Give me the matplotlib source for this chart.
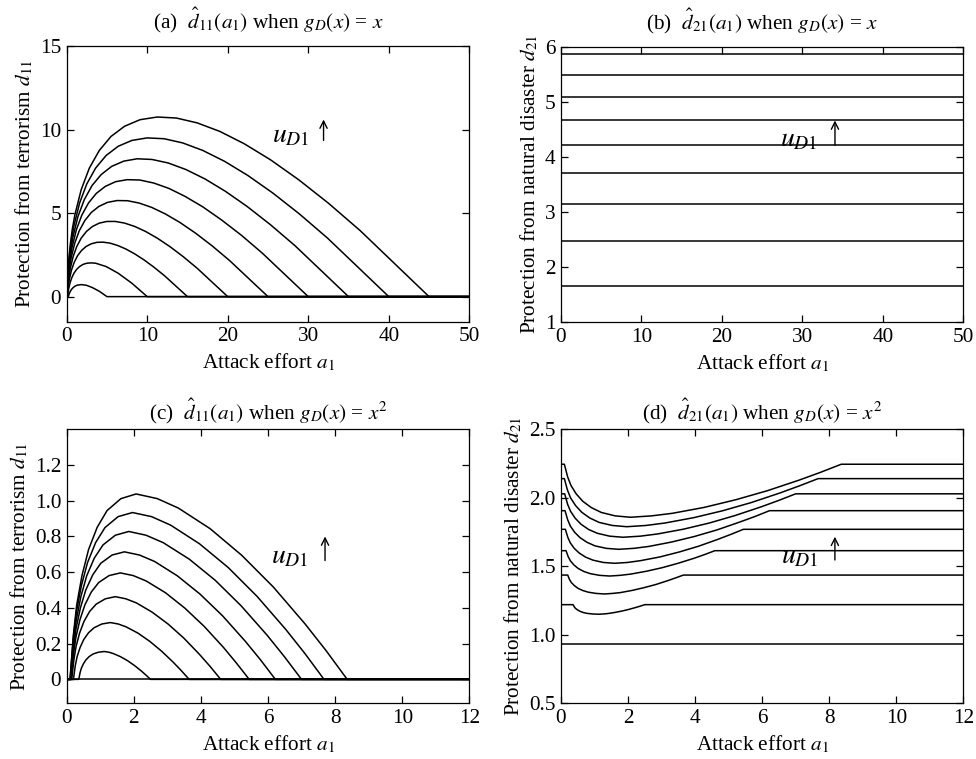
import matplotlib
matplotlib.use("Agg")
import matplotlib.pyplot as plt

plt.rcParams['font.family'] = ['Liberation Serif', 'DejaVu Serif']
plt.rcParams['mathtext.fontset'] = 'stix'

# ---------------- Panel (a): d11 vs a1, g_D(x)=x ----------------
a_panel_a = [
    [0, 0.2, 0.31, 0.45, 0.61, 0.8, 1.01, 1.25, 1.8, 2.45, 3.2, 4.05, 5, 50],
    [0, 0.1, 0.16, 0.23, 0.4, 0.63, 0.9, 1.23, 1.6, 2.03, 2.5, 3.03, 3.6, 4.9, 6.4, 8.1, 10, 50],
    [0, 0.07, 0.15, 0.23, 0.34, 0.6, 0.94, 1.35, 1.84, 2.4, 3.04, 3.75, 4.54, 5.4, 6.34, 7.35, 8.44, 9.6, 10.84, 12.15, 15, 50],
    [0, 0.05, 0.11, 0.2, 0.31, 0.45, 0.8, 1.25, 1.8, 2.45, 3.2, 4.05, 5.0, 6.05, 7.2, 8.45, 9.8, 11.25, 12.8, 14.45, 16.2, 20, 50],
    [0, 0.04, 0.06, 0.14, 0.25, 0.39, 0.56, 1.0, 1.56, 2.25, 3.06, 4.0, 5.06, 6.25, 7.56, 9.0, 10.56, 12.25, 14.06, 16.0, 18.06, 20.25, 25, 50],
    [0, 0.03, 0.08, 0.17, 0.3, 0.47, 0.68, 1.2, 1.88, 2.7, 3.68, 4.8, 6.08, 7.5, 9.08, 10.8, 12.68, 14.7, 16.88, 19.2, 21.68, 24.3, 30, 50],
    [0, 0.03, 0.09, 0.2, 0.35, 0.55, 0.79, 1.4, 2.19, 3.15, 4.29, 5.6, 7.09, 8.75, 10.59, 12.6, 14.79, 17.15, 19.69, 22.4, 25.29, 28.35, 35, 50],
    [0, 0.025, 0.1, 0.23, 0.4, 0.63, 0.9, 1.6, 2.5, 3.6, 4.9, 6.4, 8.1, 10.0, 12.1, 14.4, 16.9, 19.6, 22.5, 25.6, 28.9, 32.4, 40, 50],
    [0, 0.02, 0.11, 0.25, 0.45, 0.7, 1.01, 1.8, 2.81, 4.05, 5.51, 7.2, 9.11, 11.25, 13.61, 16.2, 19.01, 22.05, 25.31, 28.8, 32.51, 36.45, 45, 50],
]
d_panel_a = [
    [0, 0, 0.17, 0.32, 0.44, 0.54, 0.62, 0.68, 0.72, 0.68, 0.54, 0.32, 0, 0],
    [0, 0, 0.22, 0.43, 0.8, 1.13, 1.4, 1.63, 1.8, 1.93, 2.0, 2.02, 2.0, 1.8, 1.4, 0.8, 0, 0],
    [0, 0, 0.45, 0.77, 1.06, 1.6, 2.06, 2.45, 2.76, 3.0, 3.16, 3.25, 3.26, 3.2, 3.06, 2.85, 2.56, 2.2, 1.76, 1.25, 0, 0],
    [0, 0, 0.46, 0.9, 1.31, 1.7, 2.4, 3.0, 3.5, 3.9, 4.2, 4.4, 4.5, 4.5, 4.4, 4.2, 3.9, 3.5, 3.0, 2.4, 1.7, 0, 0],
    [0, 0, 0.24, 0.81, 1.35, 1.86, 2.34, 3.2, 3.94, 4.55, 5.04, 5.4, 5.64, 5.75, 5.74, 5.6, 5.34, 4.95, 4.44, 3.8, 3.04, 2.15, 0, 0],
    [0, 0, 0.48, 1.16, 1.8, 2.41, 2.98, 4.0, 4.88, 5.6, 6.18, 6.6, 6.88, 7.0, 6.98, 6.8, 6.48, 6.0, 5.38, 4.6, 3.68, 2.6, 0, 0],
    [0, 0, 0.71, 1.5, 2.25, 2.95, 3.61, 4.8, 5.81, 6.65, 7.31, 7.8, 8.11, 8.25, 8.21, 8.0, 7.61, 7.05, 6.31, 5.4, 4.31, 3.05, 0, 0],
    [0, 0, 0.95, 1.85, 2.7, 3.5, 4.25, 5.6, 6.75, 7.7, 8.45, 9.0, 9.35, 9.5, 9.45, 9.2, 8.75, 8.1, 7.25, 6.2, 4.95, 3.5, 0, 0],
    [0, 0, 1.19, 2.2, 3.15, 4.05, 4.89, 6.4, 7.69, 8.75, 9.59, 10.2, 10.59, 10.75, 10.69, 10.4, 9.89, 9.15, 8.19, 7.0, 5.59, 3.95, 0, 0],
]

# ---------------- Panel (b): d21 vs a1, g_D(x)=x (flat levels) ----------------
a_range_b = [0, 50]
levels_b = [1.66, 2.48, 3.14, 3.70, 4.21, 4.66, 5.09, 5.48, 5.87]

# ---------------- Panel (c): d11 vs a1, g_D(x)=x^2 ----------------
a_panel_c = [
    [0, 0.36, 0.398, 0.436, 0.497, 0.573, 0.672, 0.786, 0.945, 1.12, 1.258, 1.396, 1.603, 1.81, 2.017, 2.224, 2.362, 2.50, 12],
    [0, 0.2, 0.255, 0.31, 0.398, 0.508, 0.651, 0.816, 1.047, 1.30, 1.535, 1.77, 2.123, 2.475, 2.828, 3.18, 3.415, 3.65, 12],
    [0, 0.15, 0.215, 0.28, 0.384, 0.514, 0.683, 0.878, 1.151, 1.45, 1.764, 2.078, 2.549, 3.02, 3.491, 3.962, 4.276, 4.59, 12],
    [0, 0.13, 0.204, 0.277, 0.395, 0.542, 0.733, 0.953, 1.262, 1.60, 1.984, 2.368, 2.944, 3.52, 4.096, 4.672, 5.056, 5.44, 12],
    [0, 0.12, 0.20, 0.28, 0.408, 0.568, 0.776, 1.016, 1.352, 1.72, 2.17, 2.62, 3.295, 3.97, 4.645, 5.32, 5.77, 6.22, 12],
    [0, 0.11, 0.197, 0.284, 0.423, 0.597, 0.823, 1.084, 1.45, 1.85, 2.365, 2.88, 3.653, 4.425, 5.198, 5.97, 6.485, 7.0, 12],
    [0, 0.10, 0.193, 0.286, 0.435, 0.621, 0.863, 1.142, 1.532, 1.96, 2.531, 3.102, 3.959, 4.815, 5.672, 6.528, 7.099, 7.67, 12],
    [0, 0.10, 0.199, 0.297, 0.455, 0.652, 0.908, 1.203, 1.617, 2.07, 2.699, 3.328, 4.272, 5.215, 6.159, 7.102, 7.731, 8.36, 12],
]
d_panel_c = [
    [0, 0, 0.037, 0.062, 0.087, 0.109, 0.128, 0.142, 0.152, 0.156, 0.152, 0.144, 0.127, 0.105, 0.078, 0.047, 0.024, 0, 0],
    [0, 0, 0.076, 0.127, 0.178, 0.223, 0.261, 0.289, 0.310, 0.318, 0.310, 0.294, 0.259, 0.213, 0.158, 0.095, 0.049, 0, 0],
    [0, 0, 0.111, 0.185, 0.259, 0.324, 0.380, 0.421, 0.451, 0.463, 0.451, 0.428, 0.376, 0.310, 0.231, 0.139, 0.072, 0, 0],
    [0, 0, 0.143, 0.238, 0.334, 0.417, 0.489, 0.542, 0.581, 0.596, 0.581, 0.551, 0.485, 0.399, 0.297, 0.179, 0.092, 0, 0],
    [0, 0, 0.171, 0.286, 0.400, 0.500, 0.585, 0.650, 0.696, 0.714, 0.696, 0.660, 0.580, 0.478, 0.356, 0.214, 0.111, 0, 0],
    [0, 0, 0.199, 0.331, 0.464, 0.580, 0.679, 0.753, 0.807, 0.828, 0.807, 0.765, 0.673, 0.555, 0.412, 0.248, 0.128, 0, 0],
    [0, 0, 0.224, 0.374, 0.523, 0.654, 0.766, 0.850, 0.911, 0.934, 0.911, 0.863, 0.759, 0.626, 0.465, 0.280, 0.145, 0, 0],
    [0, 0, 0.249, 0.415, 0.581, 0.727, 0.851, 0.945, 1.012, 1.038, 1.012, 0.959, 0.844, 0.695, 0.517, 0.311, 0.161, 0, 0],
]

# ---------------- Panel (d): d21 vs a1, g_D(x)=x^2 ----------------
a_panel_d = [[0, 12]] + a_panel_c
d_panel_d = [
    [0.933, 0.933],
    [1.220, 1.220, 1.203, 1.192, 1.181, 1.171, 1.162, 1.156, 1.152, 1.150, 1.152, 1.155, 1.163, 1.173, 1.185, 1.199, 1.209, 1.220, 1.220],
    [1.436, 1.436, 1.403, 1.381, 1.359, 1.339, 1.323, 1.311, 1.302, 1.298, 1.302, 1.308, 1.324, 1.344, 1.367, 1.395, 1.415, 1.436, 1.436],
    [1.614, 1.614, 1.570, 1.540, 1.510, 1.484, 1.462, 1.446, 1.434, 1.429, 1.434, 1.443, 1.464, 1.490, 1.522, 1.558, 1.585, 1.614, 1.614],
    [1.770, 1.770, 1.711, 1.671, 1.631, 1.597, 1.567, 1.545, 1.528, 1.522, 1.528, 1.541, 1.568, 1.604, 1.646, 1.696, 1.732, 1.770, 1.770],
    [1.906, 1.906, 1.839, 1.793, 1.748, 1.709, 1.675, 1.649, 1.631, 1.624, 1.631, 1.645, 1.677, 1.717, 1.765, 1.822, 1.862, 1.906, 1.906],
    [2.029, 2.029, 1.953, 1.902, 1.851, 1.807, 1.769, 1.741, 1.720, 1.712, 1.720, 1.736, 1.771, 1.816, 1.871, 1.934, 1.980, 2.029, 2.029],
    [2.140, 2.140, 2.056, 1.999, 1.943, 1.894, 1.852, 1.820, 1.798, 1.789, 1.798, 1.816, 1.855, 1.905, 1.965, 2.035, 2.086, 2.140, 2.140],
    [2.245, 2.245, 2.152, 2.090, 2.028, 1.974, 1.928, 1.893, 1.868, 1.858, 1.868, 1.887, 1.930, 1.986, 2.052, 2.129, 2.185, 2.245, 2.245],
]

# tick labels
xticks_ab = [0, 10, 20, 30, 40, 50]
yticks_a = [0, 5, 10, 15]
yticks_b = [1, 2, 3, 4, 5, 6]
xticks_cd = [0, 2, 4, 6, 8, 10, 12]
yticks_c = [0, 0.2, 0.4, 0.6, 0.8, 1.0, 1.2]
yticklabels_c = ['0', '0.2', '0.4', '0.6', '0.8', '1.0', '1.2']
yticks_d = [0.5, 1.0, 1.5, 2.0, 2.5]
yticklabels_d = ['0.5', '1.0', '1.5', '2.0', '2.5']

titles = [r'(a)  $\hat{d}_{11}(a_1)$ when $g_D(x)$ = $x$',
          r'(b)  $\hat{d}_{21}(a_1)$ when $g_D(x)$ = $x$',
          r'(c)  $\hat{d}_{11}(a_1)$ when $g_D(x)$ = $x^2$',
          r'(d)  $\hat{d}_{21}(a_1)$ when $g_D(x)$ = $x^2$']
xlabel = r'Attack effort $a_1$'
ylabel_11 = r'Protection from terrorism $d_{11}$'
ylabel_21 = r'Protection from natural disaster $d_{21}$'
ann_text = r'$u_{D1}$'

W, H = 976, 759
fig = plt.figure(figsize=(W / 100, H / 100), dpi=100)

def box(l, r, t, b):
    return [l / W, 1 - b / H, (r - l) / W, (b - t) / H]

ax_a = fig.add_axes(box(66.7, 469.3, 46, 321.7))
ax_b = fig.add_axes(box(561, 963.3, 46.7, 322))
ax_c = fig.add_axes(box(66.7, 469.3, 429.3, 703.3))
ax_d = fig.add_axes(box(561, 963.3, 429.3, 703.3))

LW = 1.1
FS = 15.3

def style(ax):
    ax.tick_params(direction='in', top=True, right=True, length=5, width=0.9,
                   labelsize=FS, pad=4)
    for s in ax.spines.values():
        s.set_linewidth(0.9)

for xs, ys in zip(a_panel_a, d_panel_a):
    ax_a.plot(xs, ys, color='black', lw=LW)
ax_a.set_xlim(0, 50)
ax_a.set_ylim(-1.5, 15)
ax_a.set_xticks(xticks_ab)
ax_a.set_yticks(yticks_a)

for lv in levels_b:
    ax_b.plot(a_range_b, [lv, lv], color='black', lw=LW)
ax_b.set_xlim(0, 50)
ax_b.set_ylim(1, 6)
ax_b.set_xticks(xticks_ab)
ax_b.set_yticks(yticks_b)

ax_c.plot([0, 12], [0, 0], color='black', lw=LW)
for xs, ys in zip(a_panel_c, d_panel_c):
    ax_c.plot(xs, ys, color='black', lw=LW)
ax_c.set_xlim(0, 12)
ax_c.set_ylim(-0.134, 1.4)
ax_c.set_xticks(xticks_cd)
ax_c.set_yticks(yticks_c)
ax_c.set_yticklabels(yticklabels_c)

for xs, ys in zip(a_panel_d, d_panel_d):
    ax_d.plot(xs, ys, color='black', lw=LW)
ax_d.set_xlim(0, 12)
ax_d.set_ylim(0.5, 2.5)
ax_d.set_xticks(xticks_cd)
ax_d.set_yticks(yticks_d)
ax_d.set_yticklabels(yticklabels_d)

for ax, t, pd in zip([ax_a, ax_b, ax_c, ax_d], titles, [12.5, 12.5, 7, 7]):
    style(ax)
    ax.set_title(t, fontsize=FS, pad=pd)
    ax.set_xlabel(xlabel, fontsize=FS, labelpad=4)

ax_a.set_ylabel(ylabel_11, fontsize=FS, labelpad=3)
ax_c.set_ylabel(ylabel_11, fontsize=FS, labelpad=3)
ax_b.set_ylabel(ylabel_21, fontsize=FS, labelpad=3)
ax_d.set_ylabel(ylabel_21, fontsize=FS, labelpad=3)

arrow = dict(arrowstyle='->', lw=1.0, color='black', shrinkA=0, shrinkB=0,
             mutation_scale=13)
AFS = 20
# (a)
ax_a.text(30.2, 9.6, ann_text, fontsize=AFS, ha='right', va='center')
ax_a.annotate('', xy=(31.9, 10.6), xytext=(31.9, 9.35), arrowprops=arrow)
# (b)
ax_b.text(31.9, 4.3, ann_text, fontsize=AFS, ha='right', va='center')
ax_b.annotate('', xy=(34.05, 4.66), xytext=(34.05, 4.21), arrowprops=arrow)
# (c)
ax_c.text(7.2, 0.685, ann_text, fontsize=AFS, ha='right', va='center')
ax_c.annotate('', xy=(7.7, 0.80), xytext=(7.7, 0.665), arrowprops=arrow)
# (d)
ax_d.text(7.67, 1.57, ann_text, fontsize=AFS, ha='right', va='center')
ax_d.annotate('', xy=(8.17, 1.716), xytext=(8.17, 1.546), arrowprops=arrow)

fig.savefig('out.png', dpi=100)
